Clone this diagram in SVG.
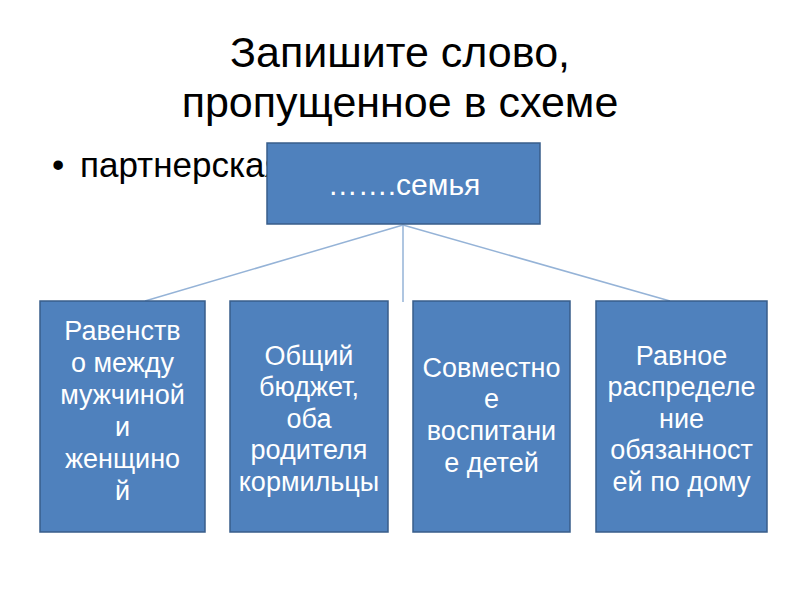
<svg xmlns="http://www.w3.org/2000/svg" width="800" height="600" viewBox="0 0 800 600">
<style>
.title{font-family:"Liberation Sans",Arial,sans-serif;font-size:43px;fill:#000;text-anchor:middle}
.bullet{font-family:"Liberation Sans",Arial,sans-serif;font-size:35px;fill:#000}
.box{fill:#4f81bd;stroke:#385d8a;stroke-width:1.5}
.bt{font-family:"Liberation Sans",Arial,sans-serif;font-size:27px;fill:#fff;text-anchor:middle}
.tt{font-family:"Liberation Sans",Arial,sans-serif;font-size:30px;fill:#fff;text-anchor:middle}
.conn{stroke:#95b3d7;stroke-width:1.5;fill:none}
</style>
<rect width="800" height="600" fill="#fff"/>
<text class="title" x="400" y="67">Запишите слово,</text>
<text class="title" x="400" y="117">пропущенное в схеме</text>
<text class="bullet" x="52" y="177">•</text>
<text class="bullet" x="80" y="177">партнерская</text>
<g id="connectors">
<line class="conn" x1="403" y1="225" x2="145" y2="301"/>
<line class="conn" x1="403" y1="225" x2="403" y2="302"/>
<line class="conn" x1="403" y1="225" x2="670" y2="301"/>
</g>
<g id="top">
<rect class="box" x="267" y="143" width="273" height="81"/>
<text class="tt" x="404" y="195">…….семья</text>
</g>
<g id="n1">
<rect class="box" x="40" y="301" width="165" height="231"/>
<text class="bt"><tspan x="122.5" y="340">Равенств</tspan><tspan x="122.5" y="372">о между</tspan><tspan x="122.5" y="404">мужчиной</tspan><tspan x="122.5" y="436">и</tspan><tspan x="122.5" y="468">женщино</tspan><tspan x="122.5" y="500">й</tspan></text>
</g>
<g id="n2">
<rect class="box" x="230" y="301" width="158" height="231"/>
<text class="bt"><tspan x="309" y="365">Общий</tspan><tspan x="309" y="396">бюджет,</tspan><tspan x="309" y="428">оба</tspan><tspan x="309" y="459">родителя</tspan><tspan x="309" y="491">кормильцы</tspan></text>
</g>
<g id="n3">
<rect class="box" x="413" y="301" width="157" height="231"/>
<text class="bt"><tspan x="491.5" y="377">Совместно</tspan><tspan x="491.5" y="408">е</tspan><tspan x="491.5" y="440">воспитани</tspan><tspan x="491.5" y="472">е детей</tspan></text>
</g>
<g id="n4">
<rect class="box" x="596" y="301" width="171" height="231"/>
<text class="bt"><tspan x="681.5" y="365">Равное</tspan><tspan x="681.5" y="396">распределе</tspan><tspan x="681.5" y="428">ние</tspan><tspan x="681.5" y="459">обязанност</tspan><tspan x="681.5" y="491">ей по дому</tspan></text>
</g>
</svg>
